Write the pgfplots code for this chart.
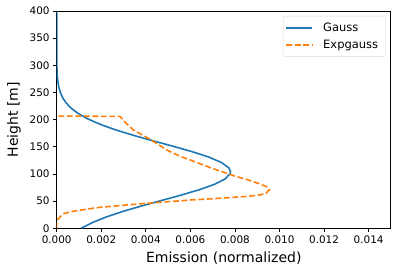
\documentclass[border=0pt]{standalone}
\usepackage{fontspec}
\setmainfont{DejaVu Sans}
\usepackage{pgfplots}
\pgfplotsset{compat=1.18}
\definecolor{tabblue}{HTML}{1F77B4}
\definecolor{taborange}{HTML}{FF7F0E}
\begin{document}
\begin{tikzpicture}
\begin{axis}[
  scale only axis,
  width=334.2pt, height=217.3pt,
  xmin=0, xmax=0.015, ymin=0, ymax=400,
  xtick={0,0.002,0.004,0.006,0.008,0.010,0.012,0.014},
  ytick={0,50,100,150,200,250,300,350,400},
  xticklabel style={/pgf/number format/.cd, fixed, fixed zerofill, precision=3, assume math mode=true},
  yticklabel style={/pgf/number format/assume math mode=true},
  scaled x ticks=false,
  tick align=outside, xtick pos=bottom, ytick pos=left,
  major tick length=3.6pt,
  tick style={black, line width=0.85pt},
  axis line style={line width=0.85pt},
  ticklabel style={font=\fontsize{10.4}{12}\selectfont},
  xlabel={Emission (normalized)}, ylabel={Height [m]},
  label style={font=\fontsize{14}{16}\selectfont},
  xlabel style={yshift=-2pt},
  ylabel style={yshift=2pt},
  legend style={at={(0.9844,0.977)}, anchor=north east, draw=black!15, rounded corners=2pt,
    font=\fontsize{11.5}{13}\selectfont, inner xsep=0pt, inner ysep=4pt, row sep=2.5pt,
    column sep=2.7pt,
    nodes={inner xsep=7.3pt, inner ysep=2.5pt}},
  legend cell align=left,
  legend image code/.code={\path (-2.4pt,0pt); \draw[#1] (0pt,0pt) -- (26pt,0pt);},
]
\addplot[tabblue, line width=1.6pt] coordinates {
(0.00111,0) (0.001139,1) (0.001625,11) (0.002236,21) (0.002966,31) (0.003797,41) (0.004685,51)
(0.005577,61) (0.006402,71) (0.007086,81) (0.007564,91) (0.007787,101) (0.0078,104)
(0.007731,111) (0.007401,121) (0.006834,131) (0.006085,141) (0.005225,151) (0.004327,161)
(0.003455,171) (0.002660,181) (0.001976,191) (0.001415,201) (0.000977,211) (0.000651,221)
(0.000418,231) (0.000259,241) (0.000155,251) (0.0000892,261) (0.0000495,271) (0.0000265,281)
(0.0000137,291) (0.0000068,301) (0.000001,321) (0,400)
};
\addlegendentry{Gauss}
\addplot[taborange, line width=1.6pt, dash pattern=on 5.9pt off 2.6pt] coordinates {
(0,0) (0,12) (0.0001,19) (0.0003,27) (0.0006,30) (0.0009,32.4) (0.0014,35.5) (0.00194,38.6)
(0.003,42.5) (0.00404,46) (0.005,49) (0.00554,50.5) (0.00599,52.1) (0.007,54.5) (0.00778,56.5)
(0.00860,59) (0.00913,61.5) (0.00940,65) (0.00955,70.5) (0.00945,76) (0.0091,82)
(0.0086,89) (0.0080,96) (0.0077,100.5) (0.0070,110) (0.00599,125.8) (0.00554,132.5)
(0.00494,144.2) (0.00419,163.9) (0.00344,181) (0.0031,194) (0.00284,206) (0,206.5)
};
\addlegendentry{Expgauss}
\end{axis}
\pgfresetboundingbox
\useasboundingbox ([shift={(-56.7pt,-44.7pt)}]current axis.south west) rectangle ([shift={(8.1pt,11pt)}]current axis.north east);
\end{tikzpicture}
\end{document}
